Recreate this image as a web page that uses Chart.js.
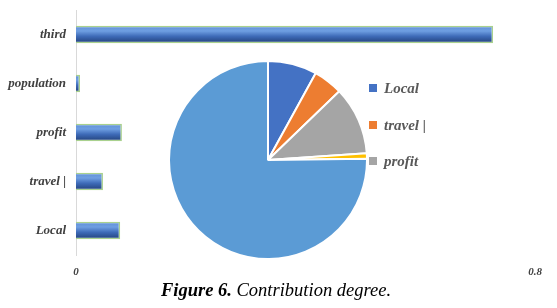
<!DOCTYPE html>
<html>
<head>
<meta charset="utf-8">
<script src="https://cdn.jsdelivr.net/npm/chart.js@4.4.1/dist/chart.umd.min.js"></script>
<style>
  html, body { margin: 0; padding: 0; background: #ffffff; }
  #wrap { position: relative; width: 557px; height: 308px; overflow: hidden; background: #fff; }
  #barCanvas { position: absolute; left: 0; top: 0; }
  #pieCanvas { position: absolute; left: 168px; top: 60px; }
  #legend { position: absolute; left: 369px; top: 79px; font-family: 'Liberation Serif', 'Times New Roman', serif; font-weight: bold; font-style: italic; font-size: 15px; color: #595959; }
  .item { position: absolute; left: 0; height: 18px; white-space: nowrap; }
  .sw { position: absolute; left: 0; top: 5px; width: 8px; height: 8px; }
  .tx { position: absolute; left: 15px; top: 0; line-height: 18px; }
  #title { position: absolute; left: 0; width: 552px; top: 280px; text-align: center; font-family: 'Liberation Serif', 'Times New Roman', serif; font-size: 18.5px; font-style: italic; color: #000; }
  #title b { font-weight: bold; }
</style>
</head>
<body>
<div id="wrap">
  <canvas id="barCanvas" width="557" height="308"></canvas>
  <canvas id="pieCanvas" width="200" height="200"></canvas>
  <div id="legend"></div>
  <div id="title"><b>Figure 6.</b> Contribution degree.</div>
</div>
<script>
// ---- data ----
const barCategories = ['third', 'population', 'profit', 'travel |', 'Local'];
const barValues = [0.727, 0.007, 0.080, 0.047, 0.077];
const xTickValues = [0, 0.8];
const xTickLabels = ['0', '0.8'];

const pieCategories = ['Local', 'travel |', 'profit', 'population', 'third'];
const pieValues = [8.0, 4.8, 11.1, 0.9, 75.2];
const pieColors = ['#4472C4', '#ED7D31', '#A5A5A5', '#FFC000', '#5B9BD5'];
const legendCount = 3;

const serif = "'Liberation Serif', 'Times New Roman', serif";

// ---- bar chart ----
const barPct = 0.36;
function barGradient(ctx) {
  const chart = ctx.chart;
  const y = chart.scales && chart.scales.y;
  if (ctx.type !== 'data' || !y || !y.height) return '#3f6fc0';
  const yc = y.getPixelForValue(ctx.dataIndex);
  const h = y.height / barCategories.length * barPct;
  const g = chart.ctx.createLinearGradient(0, yc - h / 2, 0, yc + h / 2);
  g.addColorStop(0, '#5f8fd6');
  g.addColorStop(0.3, '#6f9fe2');
  g.addColorStop(0.6, '#3e6bb8');
  g.addColorStop(1, '#213f78');
  return g;
}

new Chart(document.getElementById('barCanvas'), {
  type: 'bar',
  data: {
    labels: barCategories,
    datasets: [{
      data: barValues,
      backgroundColor: barGradient,
      borderColor: '#a9d18e',
      borderWidth: 1.5,
      borderSkipped: 'start',
      categoryPercentage: 1,
      barPercentage: barPct
    }]
  },
  options: {
    indexAxis: 'y',
    responsive: false,
    animation: false,
    devicePixelRatio: 1,
    layout: { padding: { top: 10, right: 22, left: 0, bottom: 0 } },
    plugins: { legend: { display: false }, tooltip: { enabled: false } },
    scales: {
      x: {
        min: 0, max: 0.8,
        grid: { display: false },
        border: { display: false },
        afterBuildTicks: (s) => { s.ticks = xTickValues.map(v => ({ value: v })); },
        afterFit: (s) => { s.height = 53; },
        ticks: {
          padding: 3,
          color: '#404040',
          font: { family: serif, size: 11, weight: 'bold', style: 'italic' },
          callback: (v, i) => xTickLabels[i]
        }
      },
      y: {
        grid: { display: false },
        border: { display: true, color: '#d9d9d9', width: 1 },
        afterFit: (s) => { s.width = 76; s.paddingTop = 0; s.paddingBottom = 0; },
        ticks: {
          padding: 2,
          color: '#404040',
          font: { family: serif, size: 13, weight: 'bold', style: 'italic' }
        }
      }
    }
  }
});

// ---- pie chart ----
new Chart(document.getElementById('pieCanvas'), {
  type: 'pie',
  data: {
    labels: pieCategories,
    datasets: [{
      data: pieValues,
      backgroundColor: pieColors,
      borderColor: '#ffffff',
      borderWidth: 2
    }]
  },
  options: {
    responsive: false,
    animation: false,
    devicePixelRatio: 1,
    layout: { padding: 0 },
    plugins: { legend: { display: false }, tooltip: { enabled: false } }
  }
});

// ---- legend (first items, as in the reference) ----
const legend = document.getElementById('legend');
for (let i = 0; i < legendCount; i++) {
  const it = document.createElement('div');
  it.className = 'item';
  it.style.top = (i * 36.5) + 'px';
  const sw = document.createElement('div');
  sw.className = 'sw';
  sw.style.background = pieColors[i];
  const tx = document.createElement('div');
  tx.className = 'tx';
  tx.textContent = pieCategories[i];
  it.appendChild(sw); it.appendChild(tx);
  legend.appendChild(it);
}
</script>
</body>
</html>
